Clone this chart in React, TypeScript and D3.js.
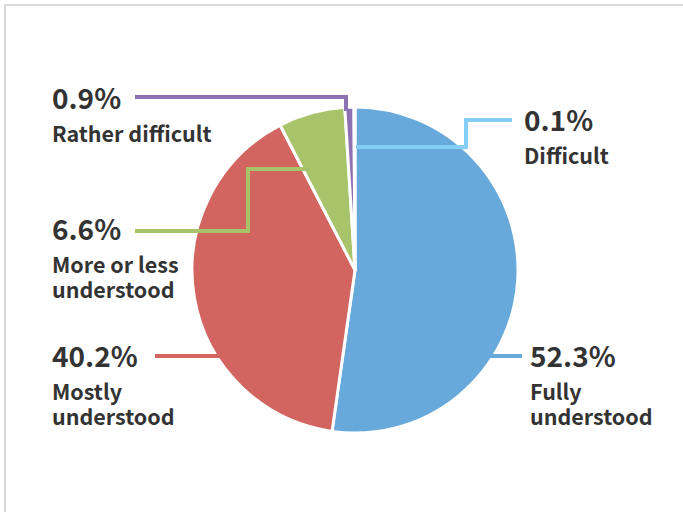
import React from "react";
import * as d3 from "d3";

const categories = ["Fully understood", "Mostly understood", "More or less understood", "Rather difficult", "Difficult"];
const values = [52.3, 40.2, 6.6, 0.9, 0.1];
const valueLabels = ["52.3%", "40.2%", "6.6%", "0.9%", "0.1%"];
const labelLines = [["Fully", "understood"], ["Mostly", "understood"], ["More or less", "understood"], ["Rather difficult"], ["Difficult"]];
const colors = ["#68a9dc", "#d2655f", "#a8c46b", "#8e71b3", "#84cdf4"];

const W = 683, H = 512;
const cx = 355, cy = 270, R = 163;

// label positions (x, baseline of percentage)
const labelPos: [number, number][] = [
  [530, 367],
  [52, 367],
  [52, 240],
  [52, 109],
  [524, 131],
];

export default function App() {
  const pie = d3.pie<number>().sort(null).value((d) => d);
  const arcs = pie(values);
  const arc = d3.arc<d3.PieArcDatum<number>>().innerRadius(0).outerRadius(R);

  // leader lines (polylines), relative to layout
  const leaders: [number, number][][] = [
    [[cx + 130, cy + 86], [522, cy + 86]],
    [[135 + 20, cy + 86], [cx - 120, cy + 86]],
    [[135, 231], [248, 231], [248, 169], [cx - 35, 169]],
    [[135, 97], [cx - 9, 97], [cx - 9, cy - R + 4]],
    [[cx + 1, 147], [466, 147], [466, 120], [512, 120]],
  ];

  const font = "'Noto Sans CJK JP', 'Noto Sans', sans-serif";

  return (
    <svg width={W} height={H} style={{ position: "absolute", left: 0, top: 0 }}>
      <rect x={0} y={0} width={W} height={H} fill="#fff" />
      <line x1={4} y1={5} x2={W} y2={5} stroke="#d9d9d9" strokeWidth={2} />
      <line x1={5} y1={4} x2={5} y2={H} stroke="#d9d9d9" strokeWidth={2} />
      <g transform={`translate(${cx},${cy})`}>
        {arcs.map((a, i) => (
          <path key={i} d={arc(a) as string} fill={colors[i]} stroke="#fff" strokeWidth={3} strokeLinejoin="round" />
        ))}
      </g>
      {leaders.map((pts, i) => (
        <polyline
          key={i}
          points={pts.map((p) => p.join(",")).join(" ")}
          fill="none"
          stroke={colors[i]}
          strokeWidth={4}
        />
      ))}
      {categories.map((c, i) => {
        const [x, y] = labelPos[i];
        return (
          <g key={c} fill="#333" fontFamily={font} fontWeight={700}>
            <text x={x} y={y} fontSize={28}>{valueLabels[i]}</text>
            <text x={x} y={y + 33} fontSize={21.5}>
              {labelLines[i].map((l, j) => (
                <tspan key={j} x={x} dy={j === 0 ? 0 : 24.5}>{l}</tspan>
              ))}
            </text>
          </g>
        );
      })}
    </svg>
  );
}
